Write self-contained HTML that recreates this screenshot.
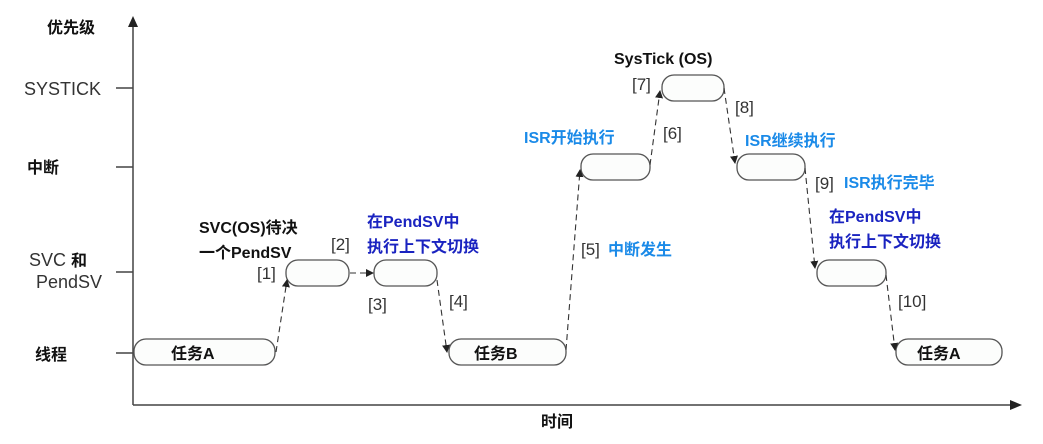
<!DOCTYPE html>
<html><head><meta charset="utf-8"><style>
body{margin:0;background:#fff}
svg text{font-family:"Liberation Sans","Noto Sans CJK SC",sans-serif}
.b{font-weight:bold;font-size:16px;fill:#111}
.n{font-size:17px;fill:#333}
.d{font-weight:bold;font-size:16px;fill:#1a23c0}
.l{font-weight:bold;font-size:16px;fill:#1a8ae8}
.ax{font-size:18px;fill:#333}
</style></head><body>
<svg width="1043" height="439" viewBox="0 0 1043 439" xmlns="http://www.w3.org/2000/svg">
<defs><marker id="a" markerWidth="8" markerHeight="8" refX="7" refY="4" orient="auto" markerUnits="userSpaceOnUse"><path d="M0,0 L8,4 L0,8z" fill="#222"/></marker></defs>
<g stroke="#444" stroke-width="1.5" fill="none">
<line x1="133" y1="405" x2="133" y2="24"/>
<line x1="133" y1="405" x2="1012" y2="405"/>
<line x1="116" y1="88" x2="133" y2="88"/>
<line x1="116" y1="167" x2="133" y2="167"/>
<line x1="116" y1="272" x2="133" y2="272"/>
<line x1="116" y1="353" x2="133" y2="353"/>
</g>
<path d="M133,16 L128,27 L138,27z" fill="#222"/>
<path d="M1022,405 L1010,400 L1010,410z" fill="#222"/>
<g stroke="#555" stroke-width="1.3" fill="#fcfdfc">
<rect x="134" y="339" width="141" height="26" rx="12"/>
<rect x="286" y="260" width="63" height="26" rx="12"/>
<rect x="374" y="260" width="63" height="26" rx="12"/>
<rect x="449" y="339" width="117" height="26" rx="12"/>
<rect x="581" y="154" width="69" height="26" rx="12"/>
<rect x="662" y="75" width="62" height="26" rx="12"/>
<rect x="737" y="154" width="68" height="26" rx="12"/>
<rect x="817" y="260" width="69" height="26" rx="12"/>
<rect x="896" y="339" width="106" height="26" rx="12"/>
</g>
<g stroke="#333" stroke-width="1.1" stroke-dasharray="6,4" fill="none" marker-end="url(#a)">
<line x1="276" y1="352" x2="287" y2="280"/>
<line x1="350" y1="273" x2="373" y2="273"/>
<line x1="437" y1="280" x2="447" y2="352"/>
<line x1="566" y1="350" x2="580" y2="170"/>
<line x1="650" y1="165" x2="660" y2="91"/>
<line x1="724" y1="88" x2="735" y2="163"/>
<line x1="805" y1="168" x2="815" y2="268"/>
<line x1="886" y1="275" x2="895" y2="350"/>
</g>
<text x="47" y="33" class="b">优先级</text>
<text x="24" y="95" class="ax">SYSTICK</text>
<text x="27" y="173" class="b">中断</text>
<text x="29" y="266" class="ax">SVC <tspan font-weight="bold" fill="#111" font-size="16">和</tspan></text>
<text x="36" y="288" class="ax">PendSV</text>
<text x="35" y="360" class="b">线程</text>
<text x="171" y="359" class="b">任务A</text>
<text x="474" y="359" class="b">任务B</text>
<text x="917" y="359" class="b">任务A</text>
<text x="199" y="233" class="b">SVC(OS)待决</text>
<text x="199" y="258" class="b">一个PendSV</text>
<text x="257" y="279" class="n">[1]</text>
<text x="331" y="250" class="n">[2]</text>
<text x="367" y="227" class="d">在PendSV中</text>
<text x="367" y="252" class="d">执行上下文切换</text>
<text x="368" y="310" class="n">[3]</text>
<text x="449" y="307" class="n">[4]</text>
<text x="581" y="255" class="n">[5]</text>
<text x="608" y="255" class="l">中断发生</text>
<text x="524" y="143" class="l">ISR开始执行</text>
<text x="663" y="139" class="n">[6]</text>
<text x="614" y="64" class="b">SysTick (OS)</text>
<text x="632" y="90" class="n">[7]</text>
<text x="735" y="113" class="n">[8]</text>
<text x="745" y="146" class="l">ISR继续执行</text>
<text x="815" y="189" class="n">[9]</text>
<text x="844" y="188" class="l">ISR执行完毕</text>
<text x="829" y="222" class="d">在PendSV中</text>
<text x="829" y="247" class="d">执行上下文切换</text>
<text x="898" y="307" class="n">[10]</text>
<text x="541" y="427" class="b">时间</text>
</svg>
</body></html>
